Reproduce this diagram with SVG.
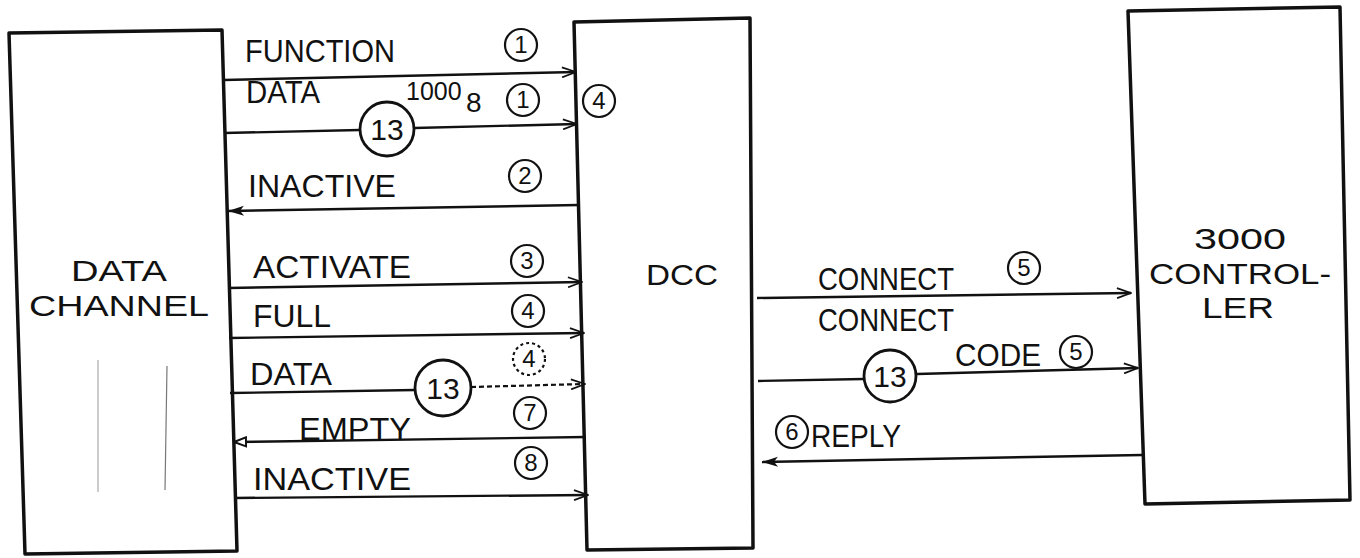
<svg xmlns="http://www.w3.org/2000/svg" width="1360" height="558" viewBox="0 0 1360 558">
<defs>
<style>
.box{fill:none;stroke:#111;stroke-width:3.5;stroke-linejoin:round}
.ln{fill:none;stroke:#111;stroke-width:2.4}
.dash{fill:none;stroke:#111;stroke-width:2.2;stroke-dasharray:5 3}
.lbl{font-family:"Liberation Sans",Arial,sans-serif;font-size:31px;fill:#111}
.big{font-family:"Liberation Sans",Arial,sans-serif;font-size:30px;fill:#111}
.num{font-family:"Liberation Sans",Arial,sans-serif;font-size:24px;fill:#111;text-anchor:middle}
.c{fill:#fff;stroke:#111;stroke-width:2.2}
.cd{fill:#fff;stroke:#111;stroke-width:2.2;stroke-dasharray:3 3}
.cb{fill:#fff;stroke:#111;stroke-width:2.8}
.n13{font-family:"Liberation Sans",Arial,sans-serif;font-size:30px;fill:#111;text-anchor:middle}
.sub{font-family:"Liberation Sans",Arial,sans-serif;fill:#111}
</style>
<marker id="open" viewBox="0 0 16 12" refX="15" refY="6" markerWidth="16" markerHeight="12" markerUnits="userSpaceOnUse" orient="auto">
<path d="M1,1 L15,6 L1,11" fill="none" stroke="#111" stroke-width="1.8"/>
</marker>
<marker id="filled" viewBox="0 0 18 12" refX="17" refY="6" markerWidth="18" markerHeight="12" markerUnits="userSpaceOnUse" orient="auto">
<path d="M1,1 L17,6 L1,11 L5,6 Z" fill="#111"/>
</marker>
<marker id="hollow" viewBox="0 0 14 12" refX="13" refY="6" markerWidth="14" markerHeight="12" markerUnits="userSpaceOnUse" orient="auto">
<path d="M1,1.5 L13,6 L1,10.5 Z" fill="#fff" stroke="#111" stroke-width="2"/>
</marker>
</defs>
<rect width="1360" height="558" fill="#fff"/>

<g id="connectors">
<line class="ln" x1="224" y1="80" x2="576" y2="72" marker-end="url(#open)"/>
<line class="ln" x1="224" y1="133" x2="360" y2="130"/>
<line class="ln" x1="414" y1="128" x2="577" y2="124" marker-end="url(#open)"/>
<line class="ln" x1="579" y1="205" x2="228" y2="211" marker-end="url(#filled)"/>
<line class="ln" x1="228" y1="288" x2="582" y2="282" marker-end="url(#open)"/>
<line class="ln" x1="229" y1="338" x2="584" y2="333" marker-end="url(#open)"/>
<line class="ln" x1="230" y1="393" x2="415" y2="390"/>
<line class="dash" x1="471" y1="387" x2="585" y2="384" marker-end="url(#open)"/>
<line class="ln" x1="586" y1="437" x2="234" y2="442" marker-end="url(#hollow)"/>
<line class="ln" x1="234" y1="498" x2="588" y2="495" marker-end="url(#open)"/>
<line class="ln" x1="757" y1="298" x2="1131" y2="293" marker-end="url(#open)"/>
<line class="ln" x1="758" y1="381" x2="864" y2="379"/>
<line class="ln" x1="917" y1="374" x2="1138" y2="368" marker-end="url(#open)"/>
<line class="ln" x1="1142" y1="455" x2="762" y2="462" marker-end="url(#filled)"/>
</g>

<g id="data-channel">
<polygon class="box" points="9,33 222,30 237,551 25,554"/>
<line x1="98" y1="360" x2="98" y2="492" stroke="#999" stroke-width="1"/>
<line x1="167" y1="366" x2="165" y2="490" stroke="#777" stroke-width="1.2"/>
<text class="big" x="119" y="281" text-anchor="middle" textLength="96" lengthAdjust="spacingAndGlyphs">DATA</text>
<text class="big" x="119" y="316" text-anchor="middle" textLength="180" lengthAdjust="spacingAndGlyphs">CHANNEL</text>
</g>

<g id="dcc">
<polygon class="box" points="574,22 750,18 753,548 587,550"/>
<text class="big" x="682" y="285" text-anchor="middle" textLength="72" lengthAdjust="spacingAndGlyphs">DCC</text>
</g>

<g id="controller">
<polygon class="box" points="1128,11 1340,7 1350,500 1145,504"/>
<text class="big" x="1240" y="249" text-anchor="middle" textLength="92" lengthAdjust="spacingAndGlyphs">3000</text>
<text class="big" x="1240" y="284" text-anchor="middle" textLength="182" lengthAdjust="spacingAndGlyphs">CONTROL-</text>
<text class="big" x="1238" y="318" text-anchor="middle" textLength="72" lengthAdjust="spacingAndGlyphs">LER</text>
</g>

<g id="labels-left">
<text class="lbl" x="245" y="62" textLength="150" lengthAdjust="spacingAndGlyphs">FUNCTION</text>
<circle class="c" cx="521" cy="45" r="16"/><text class="num" x="521" y="53">1</text>
<text class="lbl" x="246" y="103" textLength="74" lengthAdjust="spacingAndGlyphs">DATA</text>
<text class="sub" x="406" y="100" style="font-size:25px">1000</text>
<text class="sub" x="466" y="112" style="font-size:28px">8</text>
<circle class="c" cx="523" cy="100" r="16"/><text class="num" x="523" y="108">1</text>
<circle class="c" cx="599" cy="101" r="16"/><text class="num" x="599" y="109">4</text>
<circle class="cb" cx="387" cy="129" r="27"/><text class="n13" x="387" y="140">13</text>

<text class="lbl" x="248" y="197" textLength="148" lengthAdjust="spacingAndGlyphs">INACTIVE</text>
<circle class="c" cx="525" cy="176" r="16"/><text class="num" x="525" y="184">2</text>

<text class="lbl" x="253" y="278" textLength="158" lengthAdjust="spacingAndGlyphs">ACTIVATE</text>
<circle class="c" cx="527" cy="261" r="16"/><text class="num" x="527" y="269">3</text>

<text class="lbl" x="253" y="327" textLength="78" lengthAdjust="spacingAndGlyphs">FULL</text>
<circle class="c" cx="528" cy="311" r="16"/><text class="num" x="528" y="319">4</text>

<text class="lbl" x="250" y="385" textLength="82" lengthAdjust="spacingAndGlyphs">DATA</text>
<circle class="cb" cx="443" cy="388" r="28"/><text class="n13" x="443" y="399">13</text>
<circle class="cd" cx="529" cy="359" r="16"/><text class="num" x="529" y="367" fill="#555">4</text>
<circle class="c" cx="530" cy="413" r="16"/><text class="num" x="530" y="421">7</text>

<text class="lbl" x="299" y="440" textLength="112" lengthAdjust="spacingAndGlyphs">EMPTY</text>
<text class="lbl" x="253" y="490" textLength="158" lengthAdjust="spacingAndGlyphs">INACTIVE</text>
<circle class="c" cx="531" cy="463" r="16"/><text class="num" x="531" y="471">8</text>
</g>

<g id="labels-right">
<text class="lbl" x="818" y="290" textLength="136" lengthAdjust="spacingAndGlyphs">CONNECT</text>
<circle class="c" cx="1024" cy="268" r="16"/><text class="num" x="1024" y="276">5</text>
<text class="lbl" x="818" y="331" textLength="136" lengthAdjust="spacingAndGlyphs">CONNECT</text>
<circle class="cb" cx="890" cy="376" r="26"/><text class="n13" x="890" y="387">13</text>
<text class="lbl" x="955" y="366" textLength="86" lengthAdjust="spacingAndGlyphs">CODE</text>
<circle class="c" cx="1076" cy="352" r="16"/><text class="num" x="1076" y="360">5</text>
<circle class="c" cx="792" cy="432" r="16"/><text class="num" x="792" y="440">6</text>
<text class="lbl" x="811" y="447" textLength="90" lengthAdjust="spacingAndGlyphs">REPLY</text>
</g>
</svg>
